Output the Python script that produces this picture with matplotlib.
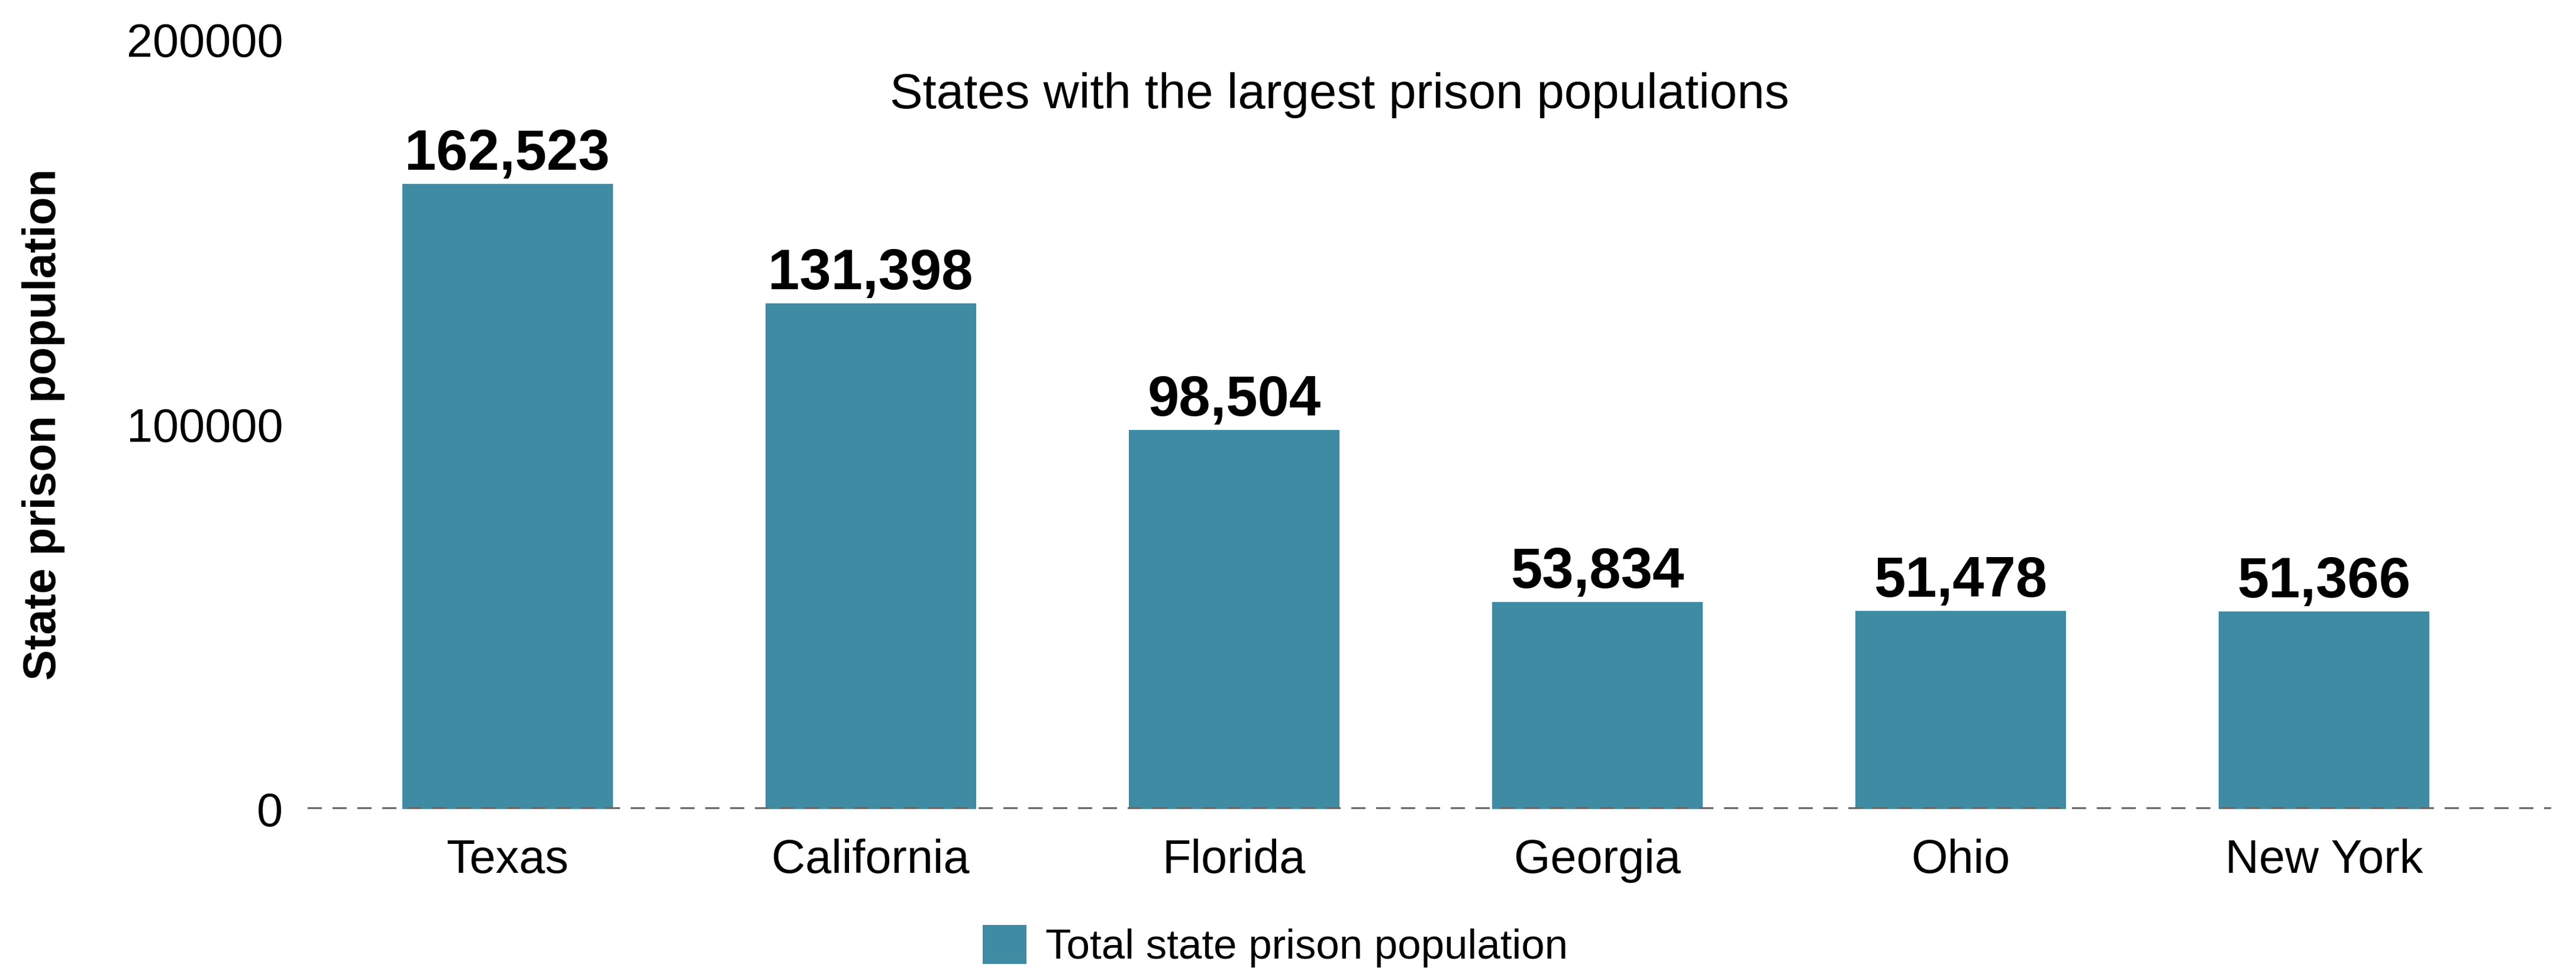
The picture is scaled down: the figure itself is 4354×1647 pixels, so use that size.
import matplotlib
matplotlib.use('Agg')
import matplotlib.pyplot as plt
import numpy as np

plt.rcParams['font.family'] = ['Liberation Sans', 'DejaVu Sans']

states = ['Texas', 'California', 'Florida', 'Georgia', 'Ohio', 'New York']
prison_pop = [162523, 131398, 98504, 53834, 51478, 51366]
y_ticks = [0, 100000, 200000]
series_name = 'Total state prison population'

bar_color = '#3f8ba3'

fig = plt.figure(figsize=(4354 / 300, 1647 / 300), dpi=300)
ax = fig.add_axes([0.1194, 0.1694, 0.8709, 0.7899])

x_pos = np.arange(len(states))
bars = ax.bar(x_pos, prison_pop, width=0.58, color=bar_color, label=series_name, zorder=2)

for rect, val in zip(bars, prison_pop):
    ax.annotate(f'{val:,}', (rect.get_x() + rect.get_width() / 2, val),
                xytext=(0, 1), textcoords='offset points',
                ha='center', va='bottom', fontsize=23, fontweight='bold')

# dashed zero line instead of an x axis spine
ax.axhline(0, color='#666666', lw=1.44, dashes=(4, 3), zorder=3)

ax.set_xlim(-0.55, 5.625)
ax.set_ylim(0, 200000)
ax.set_xticks(x_pos)
ax.set_xticklabels(states, fontsize=19)
ax.set_yticks(y_ticks)
ax.set_yticklabels([str(t) for t in y_ticks], fontsize=19)
ax.tick_params(axis='both', length=0)
ax.tick_params(axis='y', pad=10)
ax.tick_params(axis='x', pad=12)

for s in ax.spines.values():
    s.set_visible(False)

ax.set_ylabel('State prison population', fontsize=18.6, fontweight='bold')
ax.yaxis.set_label_coords(-0.108, 0.5)

fig.text(0.520, 0.902, 'States with the largest prison populations',
         ha='center', va='center', fontsize=20)

leg = fig.legend(loc='center', bbox_to_anchor=(0.495, 0.0286), frameon=False,
                 fontsize=17, handlelength=1.05, handleheight=1.05, handletextpad=0.45)
for p in leg.get_patches():
    p.set_joinstyle('round')

fig.savefig('out.png', dpi=300)
